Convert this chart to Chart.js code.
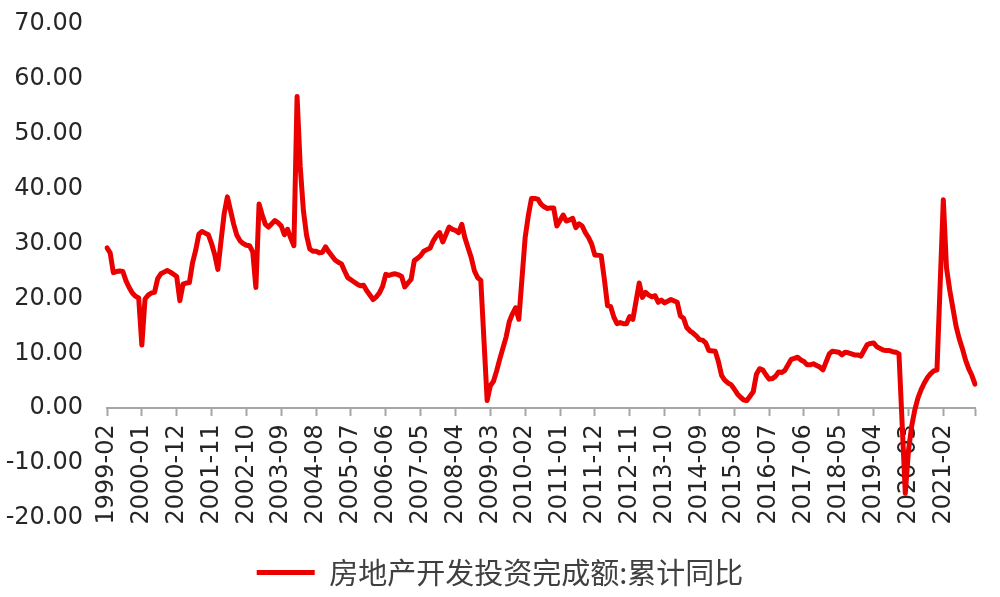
<!DOCTYPE html>
<html lang="zh-CN">
<head>
<meta charset="UTF-8">
<title>房地产开发投资完成额:累计同比</title>
<script src="https://cdn.jsdelivr.net/npm/chart.js"></script>
<style>
    html, body {
        margin: 0;
        padding: 0;
        background: #ffffff;
    }

    .chart-box {
        position: relative;
        width: 1000px;
        height: 597px;
    }
</style>
</head>
<body>
<div class="chart-box">
    <canvas id="investChart"></canvas>
</div>

<script>
    // 房地产开发投资完成额:累计同比 (%), monthly from 1999-02, January mostly not published
    const seriesName = '房地产开发投资完成额:累计同比';
    const startYear = 1999;
    const startMonth = 2;
    const investYoY = [
        29.2, 28.3, 24.7, 24.9, 25.0, 24.9, 23.2, 22.0, 21.0, 20.4, 20.1,          // 1999 Feb-Dec
        11.5, 19.9, 20.6, 21.0, 21.1, 23.6, 24.5, 24.8, 25.1, 24.8, 24.4, 24.0,    // 2000
        19.6, 22.6, 22.8, 22.9, 26.5, 28.8, 31.7, 32.2, 31.9, 31.6, 30.0, 28.0,    // 2001
        25.3, 30.5, 35.5, 38.5, 36.0, 33.5, 31.5, 30.5, 30.0, 29.7, 29.6, 28.5,    // 2002
        22.0, 37.2, 35.2, 33.5, 33.0, 33.6, 34.2, 33.8, 33.2, 31.6, 32.6, 31.0,    // 2003
        29.6, 56.8, 44.0, 36.0, 31.5, 29.0, 28.6, 28.6, 28.3, 28.4, 29.4, 28.5,    // 2004
        null, 27.0, 26.6, 26.3, 25.0, 23.8, 23.4, 23.0, 22.6, 22.3, 22.4, 21.4,    // 2005
        null, 19.8, 20.3, 21.0, 22.2, 24.4, 24.2, 24.4, 24.5, 24.3, 24.0, 22.1,    // 2006
        null, 23.5, 26.9, 27.3, 27.8, 28.6, 28.9, 29.2, 30.5, 31.4, 32.0, 30.3,    // 2007
        null, 33.0, 32.6, 32.4, 32.0, 33.5, 31.0, 29.2, 27.4, 25.0, 23.8, 23.3,    // 2008
        null, 1.4, 4.1, 4.9, 6.8, 9.0, 11.0, 13.0, 15.8, 17.2, 18.3, 16.2,         // 2009
        null, 31.1, 35.1, 38.2, 38.2, 38.1, 37.2, 36.7, 36.4, 36.5, 36.5, 33.2,    // 2010
        null, 35.2, 34.1, 34.3, 34.6, 32.9, 33.6, 33.2, 32.0, 31.1, 29.9, 27.9,    // 2011
        null, 27.8, 23.5, 18.7, 18.5, 16.6, 15.4, 15.6, 15.4, 15.4, 16.7, 16.2,    // 2012
        null, 22.8, 20.2, 21.1, 20.6, 20.3, 20.5, 19.3, 19.7, 19.2, 19.5, 19.8,    // 2013
        null, 19.3, 16.8, 16.4, 14.7, 14.1, 13.7, 13.2, 12.5, 12.4, 11.9, 10.5,    // 2014
        null, 10.4, 8.5, 6.0, 5.1, 4.6, 4.3, 3.5, 2.6, 2.0, 1.5, 1.4,              // 2015
        null, 3.0, 6.2, 7.2, 7.0, 6.1, 5.3, 5.4, 5.8, 6.6, 6.5, 6.9,               // 2016
        null, 8.9, 9.1, 9.3, 8.8, 8.5, 7.9, 7.9, 8.1, 7.8, 7.5, 7.0,               // 2017
        null, 9.9, 10.4, 10.3, 10.2, 9.7, 10.2, 10.1, 9.9, 9.7, 9.7, 9.5,          // 2018
        null, 11.6, 11.8, 11.9, 11.2, 10.9, 10.6, 10.5, 10.5, 10.3, 10.2, 9.9,     // 2019
        null, -15.5, -7.7, -3.3, -0.3, 1.9, 3.4, 4.6, 5.6, 6.3, 6.8, 7.0,          // 2020
        null, 38.0, 25.6, 21.6, 18.3, 15.0, 12.7, 10.9, 8.8, 7.2, 6.0, 4.4         // 2021
    ];

    // month labels, one per point
    const months = [];
    for (let i = 0; i < investYoY.length; i++) {
        const m = startMonth - 1 + i;
        const yy = startYear + Math.floor(m / 12);
        const mm = String(m % 12 + 1).padStart(2, '0');
        months.push(yy + '-' + mm);
    }

    const tickEvery = 11;   // a label every 11 months, as in the source
    const lastIndex = investYoY.length - 1;
    const yTicks = [-20, -10, 0, 10, 20, 30, 40, 50, 60, 70];

    const lineRed = '#eb0000';
    const axisGray = '#a6a6a6';
    const textColor = '#262626';
    const numFont = { family: 'DejaVu Sans, sans-serif', size: 24 };

    const ctx = document.getElementById('investChart').getContext('2d');
    const investChart = new Chart(ctx, {
        type: 'line',
        data: {
            labels: months,
            datasets: [{
                label: seriesName,
                data: investYoY,
                borderColor: lineRed,
                backgroundColor: lineRed,
                borderWidth: 5,
                borderJoinStyle: 'round',
                borderCapStyle: 'round',
                pointRadius: 0,
                tension: 0,
                spanGaps: true
            }]
        },
        options: {
            responsive: true,
            maintainAspectRatio: false,
            animation: false,
            layout: {
                padding: { left: 0, right: 0, top: 24, bottom: 0 }
            },
            plugins: {
                legend: {
                    position: 'bottom',
                    labels: {
                        usePointStyle: true,
                        pointStyle: 'line',
                        pointStyleWidth: 58,
                        padding: 40,
                        color: '#404040',
                        font: { family: 'Noto Sans CJK SC', size: 29 }
                    }
                },
                tooltip: { enabled: false }
            },
            scales: {
                x: {
                    position: { y: 0 },
                    afterFit: (scale) => { scale.paddingLeft = 0; scale.paddingRight = 0; },
                    grid: {
                        drawOnChartArea: false,
                        tickLength: 7,
                        tickWidth: 2,
                        tickColor: (c) => (c.index % tickEvery === 0 || c.index === lastIndex) ? axisGray : 'rgba(0,0,0,0)'
                    },
                    border: { color: axisGray, width: 2 },
                    ticks: {
                        autoSkip: false,
                        minRotation: 90,
                        maxRotation: 90,
                        padding: 9,
                        color: textColor,
                        font: numFont,
                        callback: (v, i) => i % tickEvery === 0 ? months[i] : ''
                    }
                },
                y: {
                    min: yTicks[0],
                    max: yTicks[yTicks.length - 1],
                    afterFit: (scale) => {
                        scale.width = 107;
                        scale.paddingTop = 0;
                        scale.paddingBottom = 0;
                    },
                    afterBuildTicks: (scale) => { scale.ticks = yTicks.map(v => ({ value: v })); },
                    grid: { display: false, drawTicks: false },
                    border: { display: false },
                    ticks: {
                        padding: 24,
                        color: textColor,
                        font: numFont,
                        callback: (v) => Number(v).toFixed(2)
                    }
                },
                // empty right-hand axis, only keeps the white margin after the last month
                yRight: {
                    type: 'linear',
                    position: 'right',
                    afterFit: (scale) => {
                        scale.width = 25;
                        scale.paddingTop = 0;
                        scale.paddingBottom = 0;
                    },
                    grid: { display: false, drawTicks: false },
                    border: { display: false },
                    ticks: { display: false }
                }
            }
        }
    });
</script>
</body>
</html>
